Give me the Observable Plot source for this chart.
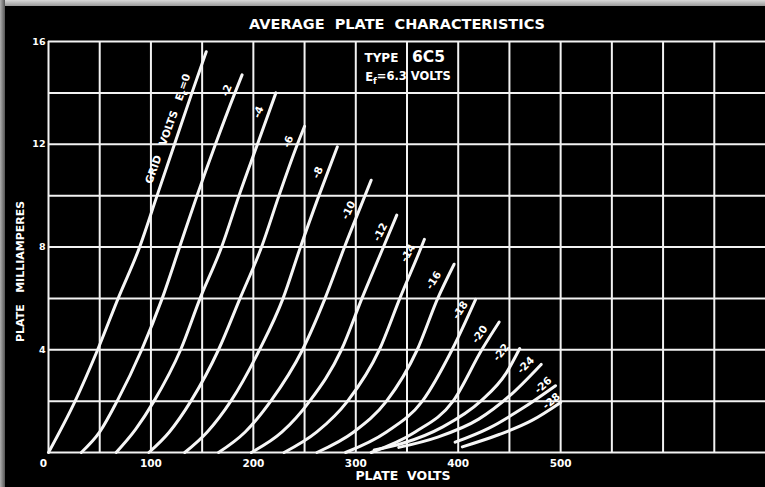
<!DOCTYPE html>
<html>
<head>
<meta charset="utf-8">
<script src="https://cdn.jsdelivr.net/npm/d3@7"></script>
<script src="https://cdn.jsdelivr.net/npm/@observablehq/plot@0.6"></script>
<style>
  html, body { margin: 0; padding: 0; background: #000; }
  body { width: 765px; height: 487px; overflow: hidden; position: relative; }
  #chart { position: absolute; left: 0; top: 0; }
  #edgeTop { position: absolute; left: 0; top: 0; width: 765px; height: 6px; background: linear-gradient(#d8d8d8, #9a9a9a); }
  #edgeLeft { position: absolute; left: 0; top: 0; width: 5px; height: 487px; background: linear-gradient(90deg, #b0b0b0, #555); }
</style>
</head>
<body>
<div id="chart"></div>
<div id="edgeTop"></div>
<div id="edgeLeft"></div>
<script>
// ---- data: plate volts (V) vs plate milliamperes (mA), one array per grid voltage ----
const gridVolts = [0, -2, -4, -6, -8, -10, -12, -14, -16, -18, -20, -22, -24, -26, -28];
const ec0   = [[0,0],[26,2],[48,4],[68,6],[89,8],[106,10],[123,12],[140,14],[154,15.6]];
const ec2   = [[32,0],[50,0.8],[67,2],[91,4],[111,6],[128,8],[145,10],[163,12],[182,14],[189,14.7]];
const ec4   = [[66,0],[85,0.9],[103,2],[129,4],[148,6],[169,8],[186,10],[204,12],[222,14]];
const ec6   = [[98,0],[118,0.8],[139,2],[166,4],[187,6],[208,8],[225,10],[243,12],[250,12.7]];
const ec8   = [[133,0],[155,0.8],[178,2],[206,4],[229,6],[246,8],[264,10],[282,11.9]];
const ec10  = [[166,0],[192,0.8],[217,2],[248,4],[270,6],[289,8],[309,10],[315,10.6]];
const ec12  = [[198,0],[228,0.8],[255,2],[286,4],[306,6],[327,8],[340,9.24]];
const ec14  = [[230,0],[262,0.8],[292,2],[323,4],[343,6],[364,8],[367,8.3]];
const ec16  = [[262,0],[298,0.8],[330,2],[360,4],[380,6],[396,7.33]];
const ec18  = [[290,0],[330,0.8],[365,2],[394,4],[417,5.96]];
const ec20  = [[315,0],[358,0.8],[395,2],[423,4],[440,5.08]];
const ec22  = [[318,0.1],[345,0.35],[385,1.0],[422,2],[447,3.1],[460,4.05]];
const ec24  = [[342,0.2],[380,0.6],[420,1.3],[450,2.2],[481,3.43]];
const ec26  = [[397,0.4],[430,0.95],[462,1.7],[495,2.6]];
const ec28  = [[404,0.22],[440,0.7],[472,1.25],[500,1.95]];
const curves = [ec0, ec2, ec4, ec6, ec8, ec10, ec12, ec14, ec16, ec18, ec20, ec22, ec24, ec26, ec28];

// tick values
const xGridTicks = [0,50,100,150,200,250,300,350,400,450,500,550,600,650];
const yGridTicks = [0,2,4,6,8,10,12,14,16];
const xLabelTicks = [100,200,300,400,500];
const yLabelTicks = [4,8,12,16];

// curve labels: text, volts, mA, angle
const curveLabelText  = ["GRID   VOLTS   E_c=0","-2","-4","-6","-8","-10","-12","-14","-16","-18","-20","-22","-24","-26","-28"];
const curveLabelVolts = [117, 174, 205, 234, 263, 293, 324, 351, 376, 402, 421, 442, 466, 483, 491];
const curveLabelMA    = [12.6, 14.1, 13.25, 12.1, 10.9, 9.43, 8.58, 7.76, 6.7, 5.54, 4.6, 3.9, 3.4, 2.62, 2.0];
const curveLabelAngle = [-70, -68, -68, -68, -66, -64, -62, -60, -58, -56, -54, -52, -45, -42, -40];

// ---- build table ----
const rows = [];
curves.forEach((c, k) => c.forEach(([v, i]) => rows.push({grid: gridVolts[k], v, i})));
const labels = curveLabelText.map((t, k) => ({t, v: curveLabelVolts[k], i: curveLabelMA[k], a: curveLabelAngle[k]}));

const font = "'DejaVu Sans', sans-serif";
const plot = Plot.plot({
  width: 765,
  height: 487,
  marginLeft: 48,
  marginRight: 0,
  marginTop: 41,
  marginBottom: 35,
  style: {background: "transparent", color: "#fff", fontFamily: font, fontWeight: "bold", overflow: "visible"},
  x: {domain: [0, 700], label: null, axis: null},
  y: {domain: [0, 16], label: null, axis: null},
  marks: [
    Plot.gridX(xGridTicks, {stroke: "#f2f2f2", strokeOpacity: 1, strokeWidth: 2}),
    Plot.gridY(yGridTicks, {stroke: "#f2f2f2", strokeOpacity: 1, strokeWidth: 2}),
    Plot.axisX(xLabelTicks, {tickSize: 0, tickPadding: 7, fontSize: 10.5, fill: "#fff", label: null}),
    Plot.axisX([0], {tickSize: 0, tickPadding: 7, dx: -5, fontSize: 10.5, fill: "#fff", label: null}),
    Plot.axisY(yLabelTicks, {tickSize: 0, tickPadding: 3, fontSize: 9.5, fill: "#fff", label: null}),
    Plot.line(rows, {x: "v", y: "i", z: "grid", stroke: "#f6f6f6", strokeWidth: 3, curve: "monotone-x", strokeLinecap: "round"}),
    Plot.text(labels, {x: "v", y: "i", text: "t", rotate: "a", fill: "#fff", fontSize: 10.5, fontWeight: "bold"}),
    Plot.text(["AVERAGE  PLATE  CHARACTERISTICS"], {frameAnchor: "top", dx: -10, dy: -23, fontSize: 14.5, fill: "#fff", fontWeight: "bold"}),
    Plot.text(["PLATE  VOLTS"], {frameAnchor: "bottom", dx: -4, dy: 27, fontSize: 12.5, fill: "#fff", fontWeight: "bold"}),
    Plot.text(["PLATE   MILLIAMPERES"], {x: () => -27, y: () => 7.05, rotate: -90, fontSize: 11, fill: "#fff", fontWeight: "bold"}),
    Plot.text(["TYPE"], {x: 325, y: 15.36, fontSize: 12, fill: "#fff", fontWeight: "bold"}),
    Plot.text(["6C5"], {x: 371, y: 15.4, fontSize: 15.5, fill: "#fff", fontWeight: "bold"}),
    Plot.text(["E_f=6.3 VOLTS"], {x: 351, y: 14.6, fontSize: 11.5, fill: "#fff", fontWeight: "bold"})
  ]
});

// subscripts (E_c, E_f)
d3.select(plot).selectAll("text").each(function() {
  const t = this.textContent;
  const m = t.match(/^(.*)E_(\w)(.*)$/);
  if (!m) return;
  const sel = d3.select(this);
  sel.text(null);
  sel.append("tspan").text(m[1] + "E");
  sel.append("tspan").attr("font-size", "75%").attr("dy", "0.35em").text(m[2]);
  sel.append("tspan").attr("dy", "-0.35em").text(m[3]);
});

document.getElementById("chart").appendChild(plot);
</script>
</body>
</html>
